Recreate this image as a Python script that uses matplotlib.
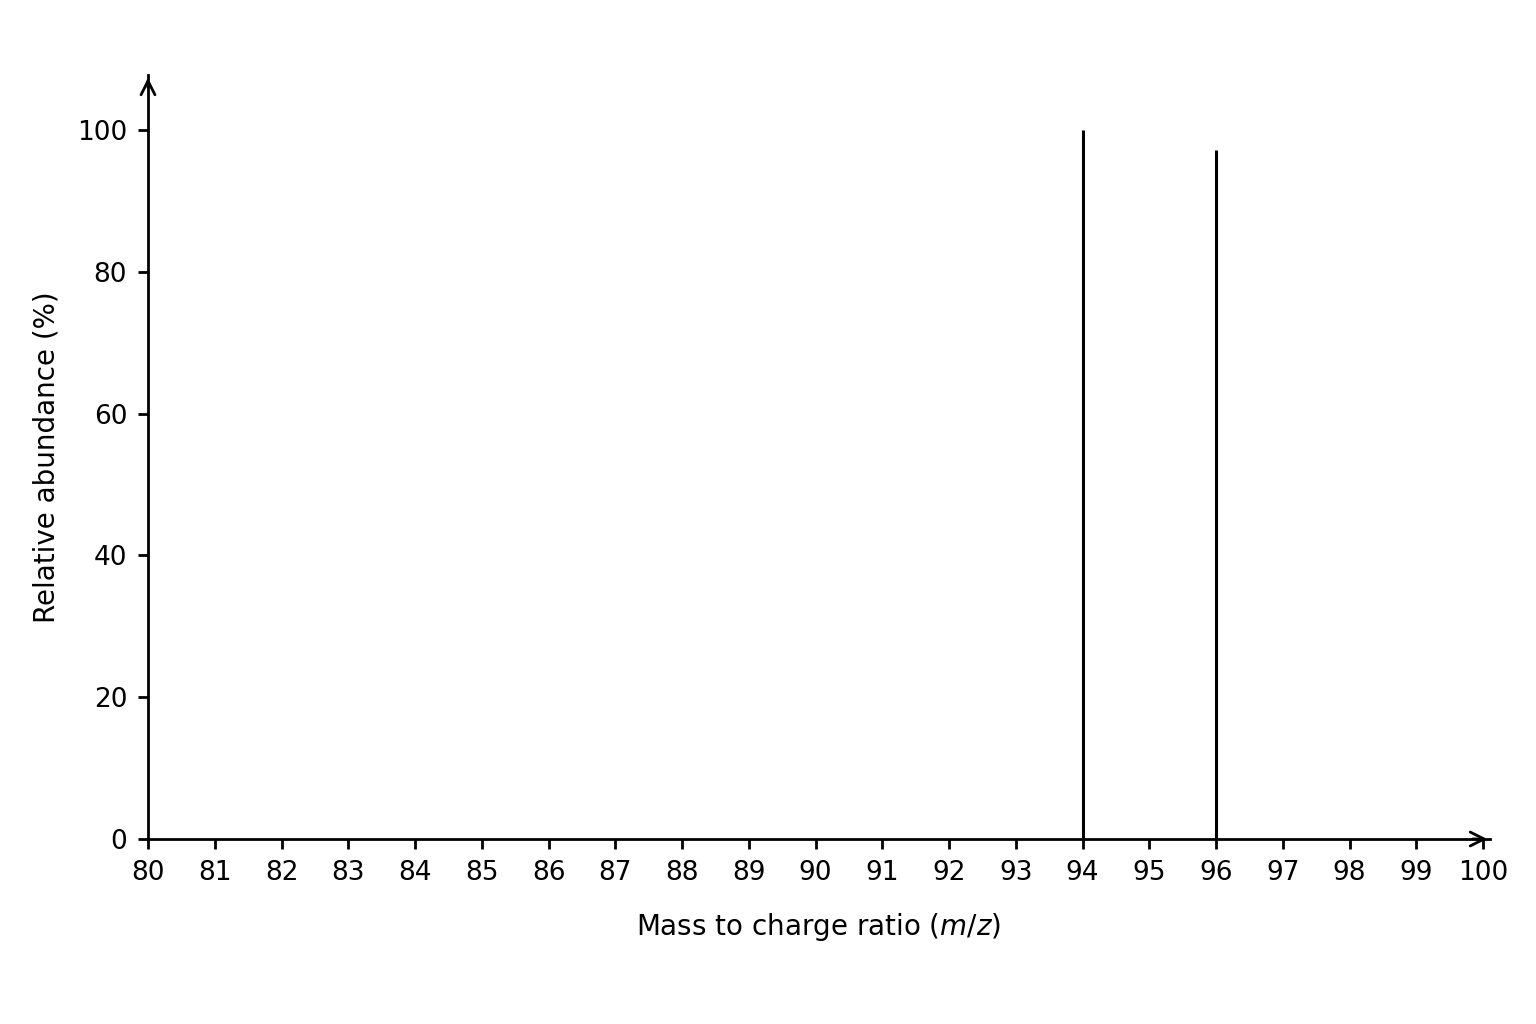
import matplotlib
matplotlib.use("Agg")
import matplotlib.pyplot as plt

mz = [94, 96]
abundance = [100, 97.2]
xticks = list(range(80, 101))
yticks = [0, 20, 40, 60, 80, 100]

fig = plt.figure(figsize=(15.36, 10.24), dpi=100)
ax = fig.add_axes([148/1536, 1-839/1024, (1490-148)/1536, (839-75)/1024])
ax.set_xlim(80, 80 + (1490-148)/66.75)
ax.set_ylim(0, (839-75)/7.09)
ax.vlines(mz, 0, abundance, color='black', lw=2.2)
for s in ['top', 'right']:
    ax.spines[s].set_visible(False)
for s in ['left', 'bottom']:
    ax.spines[s].set_linewidth(2)
ax.plot(1, 0, '>', transform=ax.transAxes, clip_on=False, color='none')
ax.annotate('', xy=(1.0, 0), xytext=(0.985, 0), xycoords='axes fraction',
            arrowprops=dict(arrowstyle='->', lw=2, color='black', mutation_scale=25))
ax.annotate('', xy=(0, 1.0), xytext=(0, 0.98), xycoords='axes fraction',
            arrowprops=dict(arrowstyle='->', lw=2, color='black', mutation_scale=25))
ax.set_xticks(xticks)
ax.set_yticks(yticks)
ax.tick_params(labelsize=19, width=2, length=7, pad=8)
ax.set_xlabel('Mass to charge ratio ($m/z$)', fontsize=20, labelpad=18)
ax.set_ylabel('Relative abundance (%)', fontsize=20, labelpad=12)
fig.savefig('out.png', dpi=100)
